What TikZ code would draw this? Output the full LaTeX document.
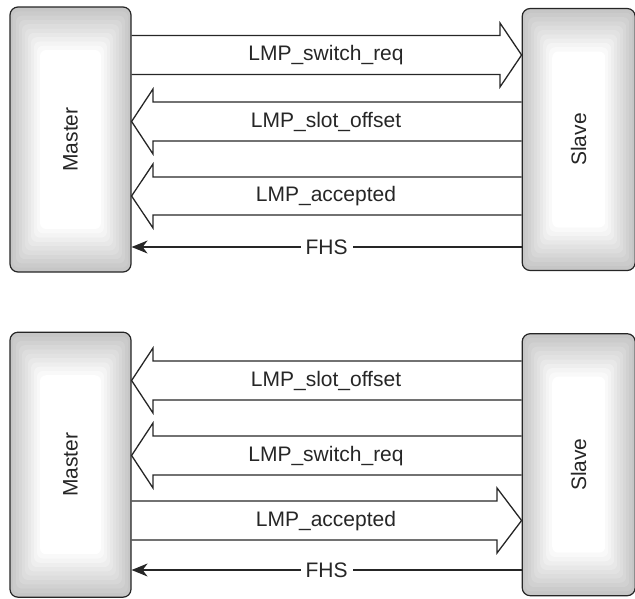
\documentclass[tikz,border=0pt]{standalone}
\usepackage{fontspec}
\setmainfont{Liberation Sans}
\usetikzlibrary{positioning,arrows.meta,calc}

\begin{document}
\begin{tikzpicture}[
  x=1pt, y=-1pt,
  font=\fontsize{21}{25}\selectfont,
  box/.style={draw=black!85, line width=1.2pt, rounded corners=8pt, fill=gray!45,
              minimum width=121pt, minimum height=265pt, inner sep=0pt,
              path picture={
                \foreach \i [evaluate=\i as \c using 45-4.5*\i] in {1,...,10}
                  \fill[gray!\c, rounded corners=6pt]
                    ($(path picture bounding box.north west)+(3pt*\i,-4.3pt*\i)$) rectangle
                    ($(path picture bounding box.south east)+(-3pt*\i,4.3pt*\i)$);
              }},
  slavebox/.style={box, minimum width=113pt, minimum height=262pt},
  fat/.style={draw=black!85, line width=1.3pt, line join=miter},
  thinarr/.style={draw=black!85, line width=1.2pt, -{Stealth[length=16pt,width=13pt,inset=5pt]}},
  lbl/.style={text=black!85, inner sep=2pt}
]
  \useasboundingbox (0,0) rectangle (635,598);

  % upper exchange
  \node[box, label={[lbl, rotate=90]center:Master}] (mT) at (70.5,139.5) {};
  \node[slavebox, right=390pt of mT, label={[lbl, rotate=90]center:Slave}] (sT) {};

  \draw[fat] (mT.east |- 0,35.5) -- (500,35.5) -- (500,23) -- (sT.west |- 0,55)
    -- (500,87) -- (500,74.5) -- (mT.east |- 0,74.5);
  \node[lbl] (swreqT) at (326,55) {LMP\_switch\_req};

  \draw[fat] (sT.west |- 0,102) -- (153,102) -- (153,89) -- (mT.east |- 0,121.5)
    -- (153,154) -- (153,141) -- (sT.west |- 0,141);
  \node[lbl] (offsetT) at (326,122) {LMP\_slot\_offset};

  \draw[fat] (sT.west |- 0,177) -- (153,177) -- (153,164) -- (mT.east |- 0,196)
    -- (153,228) -- (153,215) -- (sT.west |- 0,215);
  \node[lbl] (acceptT) at (326,196) {LMP\_accepted};

  \draw[thinarr] (sT.west |- 0,247) -- node[lbl, fill=white, inner xsep=5pt] (fhsT) {FHS} (mT.east |- 0,247);

  % lower exchange
  \node[box, below=59pt of mT, label={[lbl, rotate=90]center:Master}] (mB) {};
  \node[slavebox, right=390pt of mB, label={[lbl, rotate=90]center:Slave}] (sB) {};

  \draw[fat] (sB.west |- 0,361) -- (153,361) -- (153,348) -- (mB.east |- 0,380.5)
    -- (153,413) -- (153,400) -- (sB.west |- 0,400);
  \node[lbl] (offsetB) at (326,381) {LMP\_slot\_offset};

  \draw[fat] (sB.west |- 0,436) -- (153,436) -- (153,423) -- (mB.east |- 0,455.5)
    -- (153,488) -- (153,475) -- (sB.west |- 0,475);
  \node[lbl] (swreqB) at (326,456) {LMP\_switch\_req};

  \draw[fat] (mB.east |- 0,501) -- (497,501) -- (497,488) -- (sB.west |- 0,520.5)
    -- (497,553) -- (497,540) -- (mB.east |- 0,540);
  \node[lbl] (acceptB) at (326,521) {LMP\_accepted};

  \draw[thinarr] (sB.west |- 0,570) -- node[lbl, fill=white, inner xsep=5pt] (fhsB) {FHS} (mB.east |- 0,570);
\end{tikzpicture}
\end{document}
